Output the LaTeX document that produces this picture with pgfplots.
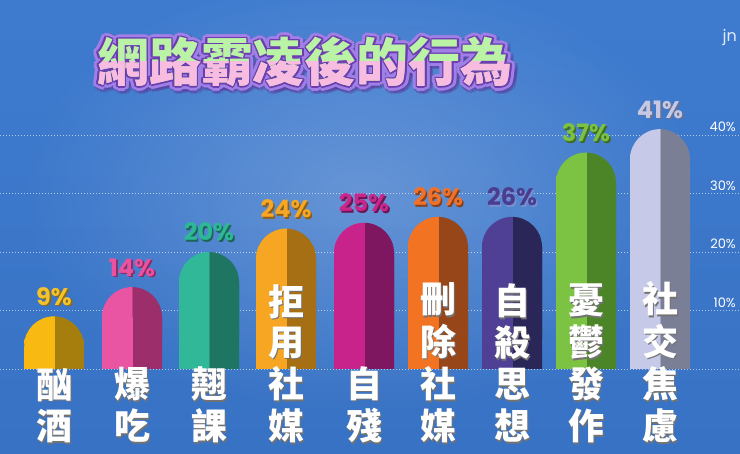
\documentclass[border=0pt]{standalone}
\usepackage{pgfplots}
\usepackage{pgfplotstable}
\pgfplotsset{compat=1.18}
\usepackage{fontspec}
\usetikzlibrary{fadings}
\setmainfont{Poppins}
\newfontfamily\cjk{Noto Sans CJK TC}
\newfontfamily\pop{Poppins}

\definecolor{bgtop}{HTML}{3E7BCF}
\definecolor{bgbot}{HTML}{3872C4}
% bar colours: light half, dark half, label, label shadow
\definecolor{c1l}{HTML}{F7B912}\definecolor{c1d}{HTML}{A67E0D}\definecolor{c1t}{HTML}{F3C22E}\definecolor{c1s}{HTML}{8A6A10}
\definecolor{c2l}{HTML}{E955A2}\definecolor{c2d}{HTML}{9C2E6B}\definecolor{c2t}{HTML}{EA519F}\definecolor{c2s}{HTML}{8A2A5E}
\definecolor{c3l}{HTML}{31B898}\definecolor{c3d}{HTML}{1E7562}\definecolor{c3t}{HTML}{2CB896}\definecolor{c3s}{HTML}{1B6656}
\definecolor{c4l}{HTML}{F6A623}\definecolor{c4d}{HTML}{A66F14}\definecolor{c4t}{HTML}{F7A724}\definecolor{c4s}{HTML}{8F5E12}
\definecolor{c5l}{HTML}{C8238A}\definecolor{c5d}{HTML}{7E1760}\definecolor{c5t}{HTML}{C9278C}\definecolor{c5s}{HTML}{6E1553}
\definecolor{c6l}{HTML}{F27423}\definecolor{c6d}{HTML}{97461A}\definecolor{c6t}{HTML}{F0722A}\definecolor{c6s}{HTML}{8A4019}
\definecolor{c7l}{HTML}{4F4095}\definecolor{c7d}{HTML}{2B2658}\definecolor{c7t}{HTML}{4A3D90}\definecolor{c7s}{HTML}{7A8FD0}
\definecolor{c8l}{HTML}{7CC243}\definecolor{c8d}{HTML}{4C8428}\definecolor{c8t}{HTML}{7BC142}\definecolor{c8s}{HTML}{3F6E22}
\definecolor{c9l}{HTML}{C6CAE8}\definecolor{c9d}{HTML}{7B7F96}\definecolor{c9t}{HTML}{C5C9E6}\definecolor{c9s}{HTML}{6B7090}
\definecolor{ttlgreen}{HTML}{BAF2A6}
\definecolor{ttlpink}{HTML}{F8BCE0}
\definecolor{ttlout}{HTML}{A07FE6}
\definecolor{ttlin}{HTML}{6B3DB0}
\definecolor{ttlsh}{HTML}{5A3A9A}

% two-tone fill: left half light, right half dark
\foreach \i in {1,...,9}{%
  \pgfdeclarehorizontalshading{split\i}{100bp}{color(0bp)=(c\i l); color(50bp)=(c\i l);
    color(50.01bp)=(c\i d); color(100bp)=(c\i d)}}

\tikzfading[name=glow, inner color=transparent!0, outer color=transparent!100]

\newcommand\sh[2]{\leavevmode\rlap{\kern1.6pt\raisebox{-1.6pt}{\color{#1}#2}}#2}
\newcommand\vl[1]{{\cjk\bfseries\fontsize{36}{38}\selectfont\begin{tabular}{@{}c@{}}#1\end{tabular}}}
\newcommand\cl[1]{\sh{black!55}{\vl{#1}}}
\newcommand\ttl{\cjk\bfseries\fontsize{52}{52}\selectfont 網路霸凌後的行為}

\pgfplotsset{
  frame/.style={
    x=1pt, y=5.85pt,
    xmin=0, xmax=740, ymin=-14.53, ymax=63.077,
    scale only axis, clip=false,
    axis line style={draw=none},
    major tick length=0pt,
    /pgf/number format/assume math mode=true,
    ytick={0,10,20,30,40},
  },
}

\pgfplotstableread{
x   v
54  9
132 14
209 20
286 24
364 25
438 26
512 26
586 37
660 41
}\bars

% #1 bar number, #2 x range that holds only that bar
\newcommand\capbar[2]{%
  \addplot[ybar, bar width=60pt, bar shift=0pt, draw=none, shade, shading=split#1,
    rounded corners=30pt, restrict x to domain=#2,
    point meta=\thisrow{v},
    nodes near coords={\sh{c#1s}{\pgfmathprintnumber{\pgfplotspointmeta}\%}},
    every node near coord/.style={anchor=base, inner sep=0pt, yshift=11pt,
      text=c#1t, font=\pop\bfseries\fontsize{24}{24}\selectfont}]
    table[x=x, y=v] {\bars};
  % square off the lower corners
  \addplot[ybar, bar width=60pt, bar shift=0pt, draw=none, shade, shading=split#1,
    restrict x to domain=#2]
    table[x=x, y expr=\thisrow{v}-5.128] {\bars};
}

\begin{document}
\begin{tikzpicture}
  % background, grid and bars
  \begin{axis}[
    frame,
    xtick=\empty,
    yticklabels={},
    ymajorgrids,
    grid style={white, opacity=0.6, dash pattern=on 1.2pt off 1.8pt, line width=0.7pt},
    axis background/.style={shade, top color=bgtop, bottom color=bgbot},
  ]
    \fill[white, opacity=0.22, path fading=glow]
      (axis cs:360,30) ellipse [x radius=340pt, y radius=220pt];

    \capbar{1}{50:58}
    \capbar{2}{128:136}
    \capbar{3}{205:213}
    \capbar{4}{282:290}
    \capbar{5}{360:368}
    \capbar{6}{434:442}
    \capbar{7}{508:516}
    \capbar{8}{582:590}
    \capbar{9}{656:664}
  \end{axis}

  % same frame again, only for the tick labels, so they sit over the bars
  \begin{axis}[
    frame,
    xtick={54,132,209,286,364,438,512,586,660},
    xticklabels={{\cl{酗\\酒}},{\cl{爆\\吃}},{\cl{翹\\課}},{\cl{拒\\用\\社\\媒}},{\cl{自\\殘}},
      {\cl{刪\\除\\社\\媒}},{\cl{自\\殺\\思\\想}},{\cl{憂\\鬱\\發\\作}},{\cl{社\\交\\焦\\慮}}},
    xticklabel style={anchor=south, inner sep=0pt, yshift=1pt, text=white},
    yticklabels={,10\%,20\%,30\%,40\%},
    yticklabel pos=right,
    yticklabel style={anchor=south east, inner sep=0pt, xshift=-4pt, yshift=3pt,
      text=white, font=\pop\fontsize{13}{13}\selectfont},
  ]
  \end{axis}

  % title: soft shadow, lavender outline, dark edge, green/pink fill
  \foreach \a in {0,30,...,330}
    \node[text=ttlsh, opacity=0.35] at ([shift={(\a:6pt)}]307pt,390pt) {\ttl};
  \foreach \a in {0,22.5,...,337.5}
    \node[text=ttlout] at ([shift={(\a:4.5pt)}]305pt,392pt) {\ttl};
  \foreach \a in {0,45,...,315}
    \node[text=ttlin] at ([shift={(\a:1.6pt)}]305pt,392pt) {\ttl};
  \node[text=ttlgreen] at (305pt,392pt) {\ttl};
  \begin{scope}
    \clip (0pt,0pt) rectangle (740pt,392pt);
    \node[text=ttlpink] at (305pt,392pt) {\ttl};
  \end{scope}

  \node[anchor=west, text=white, opacity=0.85, font=\pop\fontsize{16}{16}\selectfont]
    at (719pt,416pt) {jn};

  \pgfresetboundingbox
  \path (0pt,0pt) rectangle (740pt,454pt);
\end{tikzpicture}
\end{document}
